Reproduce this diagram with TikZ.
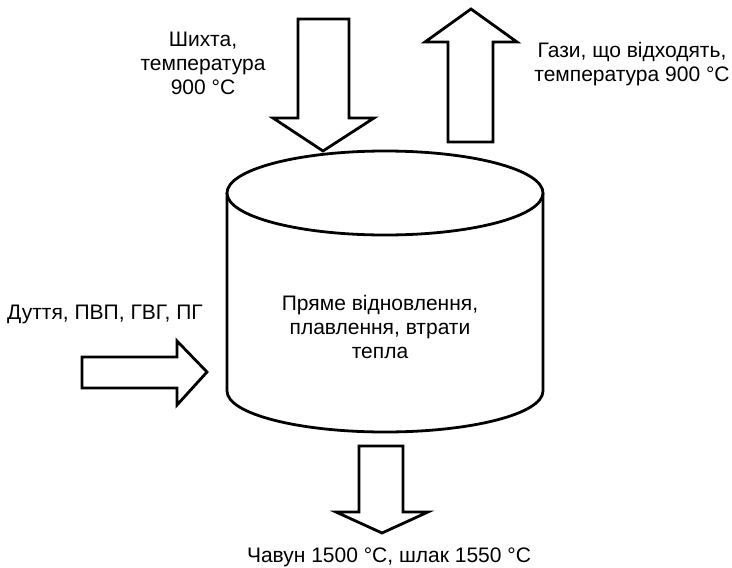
\documentclass[tikz,border=0pt]{standalone}
\usepackage{fontspec}
\setmainfont{Liberation Sans}
\usetikzlibrary{positioning}

\begin{document}
\begin{tikzpicture}[
    x=1pt,               % X direction
    y=-1pt,              % Y direction (pointing down)
    flow/.style={draw, line width=2.8pt, fill=white, line join=miter},
    lbl/.style={font=\fontsize{21}{24}\selectfont, align=center, inner sep=0pt, anchor=north}
]

    % --- Parameters ---
    \def\cx{385}   % Centre of the furnace
    \def\rx{158}   % Half width
    \def\ry{42}    % Half height of the ellipses
    \def\yTop{193} % Top ellipse centre
    \def\yBot{391} % Bottom arc centre

    \useasboundingbox (0,0) rectangle (732,568);

    % --- 1. The Furnace Body ---
    \draw[line width=2.8pt] (\cx-\rx,\yTop) -- (\cx-\rx,\yBot)
        arc[start angle=180, end angle=0, x radius=\rx, y radius=41]
        -- (\cx+\rx,\yTop);
    \draw[line width=2.8pt, fill=white] (\cx,\yTop) ellipse [x radius=\rx, y radius=\ry];

    % --- 2. Block Arrows ---
    % Charge coming in from above
    \draw[flow] (298,19) -- (349,19) -- (349,118) -- (374,118) -- (323,151)
        -- (273,118) -- (298,118) -- cycle;

    % Off-gases leaving
    \draw[flow] (448,142) -- (448,42) -- (425,42) -- (471,9) -- (517,42)
        -- (493,42) -- (493,142) -- cycle;

    % Blast from the left
    \draw[flow] (82,357) -- (177,357) -- (177,341) -- (207,372) -- (177,405)
        -- (177,388) -- (82,388) -- cycle;

    % Hot metal and slag out of the bottom
    \draw[flow] (359,446) -- (403,446) -- (403,512) -- (428,512) -- (382,533)
        -- (336,512) -- (359,512) -- cycle;

    % --- 3. Annotations ---
    \node[lbl] (charge) at (203,32) {Шихта,\\температура\\900 °C};
    \node[lbl] (gases) at (632,42) {Гази, що відходять,\\температура 900 °C};
    \node[lbl] (blast) at (105,305) {Дуття, ПВП, ГВГ, ПГ};
    \node[lbl] (zone) at (380,295) {Пряме відновлення,\\плавлення, втрати\\тепла};
    \node[lbl] (product) at (389,548) {Чавун 1500 °C, шлак 1550 °C};

\end{tikzpicture}
\end{document}
